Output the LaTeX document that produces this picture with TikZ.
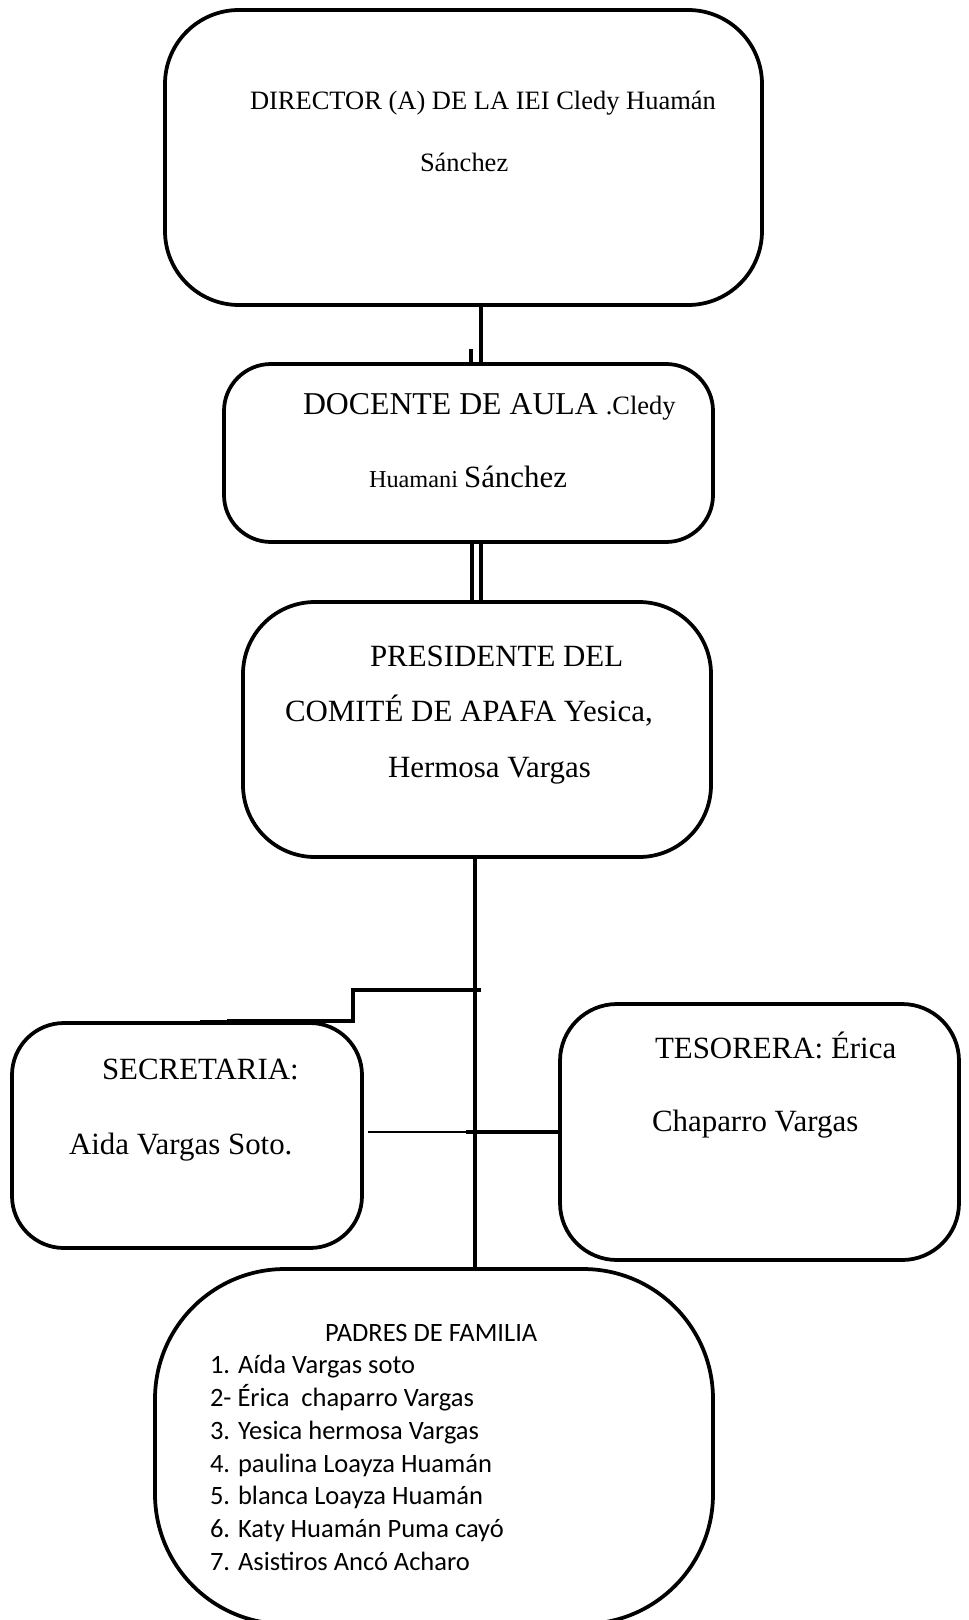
\documentclass[tikz,border=0pt]{standalone}
\usepackage{fontspec}
\setmainfont{Liberation Serif}
\newfontfamily\calibri{Carlito}
\usetikzlibrary{positioning}
\def\u{0.453pt}
\newcommand{\fsz}[1]{\fontsize{#1}{#1}\selectfont}
\tikzset{
	box/.style={
		rectangle,
		draw=black,
		line width=1.7pt,
		inner sep=0pt,
		outer sep=0pt
	},
	link/.style={line width=1.4pt},
	thin link/.style={line width=1pt},
	thick link/.style={line width=1.8pt},
	txt/.style={anchor=base west, inner sep=0pt, outer sep=0pt}
}
\newcommand{\orgbox}[6]{% name, x, y, width, height, radius
	\node[box, minimum width=#4*\u, minimum height=#5*\u, rounded corners=#6*\u] (#1) at (#2,#3) {}
}

\begin{document}
\begin{tikzpicture}[x=\u, y=-\u]
	\useasboundingbox (0,0) rectangle (968,1620);

	\orgbox{dir}{463.5}{157.5}{597}{295}{74};
	\orgbox{doc}{468.5}{453}{489}{178}{47};
	\orgbox{pres}{477}{729.5}{468}{255}{72};
	\orgbox{sec}{187}{1135.5}{350}{225}{52};
	\orgbox{tes}{759.5}{1132}{399}{256}{57};
	\orgbox{pad}{434}{1446.5}{558}{355}{130};

	% texts
	\node[txt, font=\fsz{12}] (dirA) at (250,110) {DIRECTOR (A) DE LA IEI Cledy Huamán};
	\node[txt, font=\fsz{12}] (dirB) at (420,172) {Sánchez};

	\node[txt] (docA) at (303,415) {{\fsz{14.4}DOCENTE DE AULA }{\fsz{12}.Cledy}};
	\node[txt] (docB) at (369,487) {{\fsz{11}Huamani }{\fsz{14}Sánchez}};

	\node[txt, font=\fsz{14}] (presA) at (370,666) {PRESIDENTE DEL};
	\node[txt, font=\fsz{14}] (presB) at (285,721) {COMITÉ DE APAFA Yesica,};
	\node[txt, font=\fsz{14}] (presC) at (388,777) {Hermosa Vargas};

	\node[txt, font=\fsz{14}] (secA) at (102,1079) {SECRETARIA:};
	\node[txt, font=\fsz{14}] (secB) at (69,1154) {Aida Vargas Soto.};

	\node[txt, font=\fsz{14}] (tesA) at (655,1058) {TESORERA: Érica};
	\node[txt, font=\fsz{14}] (tesB) at (652,1131) {Chaparro Vargas};

	\node[txt, font=\calibri\fsz{12}] (padT) at (325,1341) {PADRES DE FAMILIA};
	\node[txt, font=\calibri\fsz{12}] (pad1) at (210,1373) {1. Aída Vargas soto};
	\node[txt, font=\calibri\fsz{12}] (pad2) at (210,1406) {2- Érica\ \ chaparro Vargas};
	\node[txt, font=\calibri\fsz{12}] (pad3) at (210,1439) {3. Yesica hermosa Vargas};
	\node[txt, font=\calibri\fsz{12}] (pad4) at (210,1472) {4. paulina Loayza Huamán};
	\node[txt, font=\calibri\fsz{12}] (pad5) at (210,1504) {5. blanca Loayza Huamán};
	\node[txt, font=\calibri\fsz{12}] (pad6) at (210,1537) {6. Katy Huamán Puma cayó};
	\node[txt, font=\calibri\fsz{12}] (pad7) at (210,1570) {7. Asistiros Ancó Acharo};

	% connectors
	\coordinate (top) at (481,0);
	\coordinate (stub) at (471,349);
	\draw[link] (dir.south -| top) -- (doc.north -| top);
	\draw[link] (stub) -- (doc.north -| stub);

	\coordinate (dblA) at (472,0);
	\coordinate (dblB) at (481,0);
	\draw[link] (doc.south -| dblA) -- (pres.north -| dblA);
	\draw[link] (doc.south -| dblB) -- (pres.north -| dblB);

	\coordinate (trunk) at (475,0);
	\draw[link] (pres.south -| trunk) -- (pad.north -| trunk);

	\coordinate (stepA) at (481,990);
	\coordinate (stepB) at (353,1021);
	\coordinate (stepC) at (227,1021);
	\coordinate (stepD) at (200,1021);
	\draw[thick link] (stepA) -| (stepB) -- (stepC);
	\draw[thin link] (stepC) -- (stepD);

	\coordinate (midL) at (368,1132);
	\coordinate (midC) at (466,1132);
	\draw[thin link] (midL) -- (midC);
	\draw[thick link] (midC) -- (tes.west);
\end{tikzpicture}
\end{document}
